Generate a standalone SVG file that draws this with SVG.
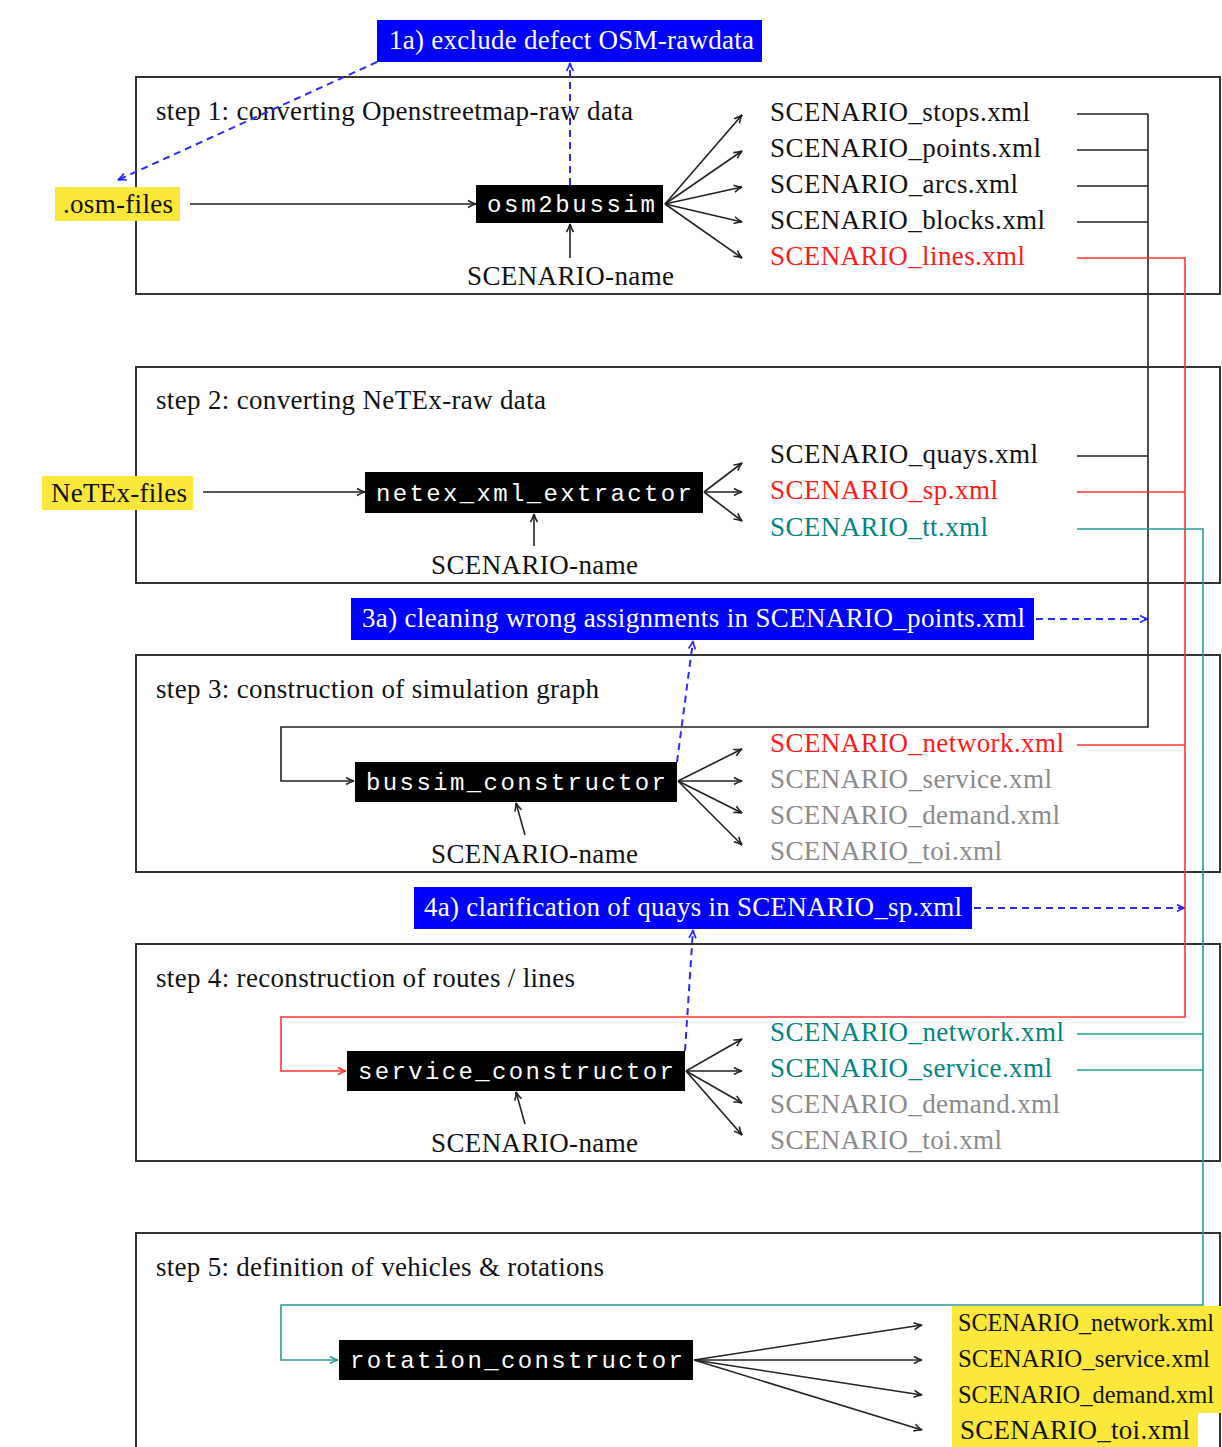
<svg xmlns="http://www.w3.org/2000/svg" width="1222" height="1447" viewBox="0 0 1222 1447">
<defs>
<style>
.frame{fill:none;stroke:#333;stroke-width:2}
.t{font-family:"Liberation Serif","Times New Roman",serif;font-size:27px;fill:#111}
.s5{font-size:24.5px}
.w{font-family:"Liberation Serif","Times New Roman",serif;font-size:27px;fill:#fff}
.m{font-family:"Liberation Mono","Courier New",monospace;font-size:24px;fill:#fff}
.red{fill:#ff1a1a}.teal{fill:#00857f}.gray{fill:#8a8a8a}
.blk{fill:none;stroke:#222;stroke-width:1.6}
.rl{fill:none;stroke:#ff3333;stroke-width:1.6}
.tl{fill:none;stroke:#2a9c96;stroke-width:1.6}
.bl{fill:none;stroke:#2a2aff;stroke-width:2;stroke-dasharray:7 5}
.ybox{fill:#fce83a}
.bbox{fill:#0000ff}
.kbox{fill:#000}
</style>
<marker id="ak" viewBox="0 0 10 10" refX="9" refY="5" markerWidth="10" markerHeight="10" markerUnits="userSpaceOnUse" orient="auto"><path d="M1,1.5 Q5,4 9,5 Q5,6 1,8.5" fill="none" stroke="#222" stroke-width="1.6"/></marker>
<marker id="ar" viewBox="0 0 10 10" refX="9" refY="5" markerWidth="10" markerHeight="10" markerUnits="userSpaceOnUse" orient="auto"><path d="M1,1.5 Q5,4 9,5 Q5,6 1,8.5" fill="none" stroke="#ff3333" stroke-width="1.6"/></marker>
<marker id="at" viewBox="0 0 10 10" refX="9" refY="5" markerWidth="10" markerHeight="10" markerUnits="userSpaceOnUse" orient="auto"><path d="M1,1.5 Q5,4 9,5 Q5,6 1,8.5" fill="none" stroke="#2a9c96" stroke-width="1.6"/></marker>
<marker id="ab" viewBox="0 0 10 10" refX="9" refY="5" markerWidth="10" markerHeight="10" markerUnits="userSpaceOnUse" orient="auto"><path d="M1,1.5 Q5,4 9,5 Q5,6 1,8.5" fill="none" stroke="#2a2aff" stroke-width="1.8"/></marker>
</defs>
<rect width="1222" height="1447" fill="#fff"/>

<g id="frames">
<g id="step1"><rect class="frame" x="136" y="77" width="1084" height="217"/><text class="t" x="156" y="120" textLength="477">step 1: converting Openstreetmap-raw data</text></g>
<g id="step2"><rect class="frame" x="136" y="367" width="1084" height="216"/><text class="t" x="156" y="409" textLength="390">step 2: converting NeTEx-raw data</text></g>
<g id="step3"><rect class="frame" x="136" y="655" width="1084" height="217"/><text class="t" x="156" y="698" textLength="443">step 3: construction of simulation graph</text></g>
<g id="step4"><rect class="frame" x="136" y="944" width="1084" height="217"/><text class="t" x="156" y="987" textLength="419">step 4: reconstruction of routes / lines</text></g>
<g id="step5"><path class="frame" d="M136,1447 V1233 H1220 V1447"/><text class="t" x="156" y="1276" textLength="448">step 5: definition of vehicles &amp; rotations</text></g>
</g>

<g id="connectors">
<line class="blk" x1="190" y1="204" x2="476" y2="204" marker-end="url(#ak)"/>
<line class="blk" x1="570" y1="258" x2="570" y2="224" marker-end="url(#ak)"/>
<line class="blk" x1="665" y1="204" x2="742" y2="115" marker-end="url(#ak)"/>
<line class="blk" x1="665" y1="204" x2="742" y2="151" marker-end="url(#ak)"/>
<line class="blk" x1="665" y1="204" x2="742" y2="187" marker-end="url(#ak)"/>
<line class="blk" x1="665" y1="204" x2="742" y2="222" marker-end="url(#ak)"/>
<line class="blk" x1="665" y1="204" x2="742" y2="258" marker-end="url(#ak)"/>
<line class="bl" x1="570" y1="185" x2="570" y2="63" marker-end="url(#ab)"/>
<line class="bl" x1="377" y1="62" x2="118" y2="180" marker-end="url(#ab)"/>
<line class="blk" x1="203" y1="492" x2="365" y2="492" marker-end="url(#ak)"/>
<line class="blk" x1="534" y1="546" x2="534" y2="514" marker-end="url(#ak)"/>
<line class="blk" x1="704" y1="492" x2="742" y2="463" marker-end="url(#ak)"/>
<line class="blk" x1="704" y1="492" x2="742" y2="492" marker-end="url(#ak)"/>
<line class="blk" x1="704" y1="492" x2="742" y2="521" marker-end="url(#ak)"/>
<line class="bl" x1="677" y1="762" x2="693" y2="641" marker-end="url(#ab)"/>
<line class="bl" x1="1036" y1="619" x2="1148" y2="619" marker-end="url(#ab)"/>
<line class="blk" x1="525" y1="835" x2="516" y2="803" marker-end="url(#ak)"/>
<line class="blk" x1="678" y1="781" x2="742" y2="749" marker-end="url(#ak)"/>
<line class="blk" x1="678" y1="781" x2="742" y2="781" marker-end="url(#ak)"/>
<line class="blk" x1="678" y1="781" x2="742" y2="813" marker-end="url(#ak)"/>
<line class="blk" x1="678" y1="781" x2="742" y2="845" marker-end="url(#ak)"/>
<line class="bl" x1="685" y1="1051" x2="693" y2="930" marker-end="url(#ab)"/>
<line class="bl" x1="974" y1="908" x2="1185" y2="908" marker-end="url(#ab)"/>
<line class="blk" x1="525" y1="1124" x2="516" y2="1092" marker-end="url(#ak)"/>
<line class="blk" x1="686" y1="1071" x2="742" y2="1039" marker-end="url(#ak)"/>
<line class="blk" x1="686" y1="1071" x2="742" y2="1071" marker-end="url(#ak)"/>
<line class="blk" x1="686" y1="1071" x2="742" y2="1103" marker-end="url(#ak)"/>
<line class="blk" x1="686" y1="1071" x2="742" y2="1135" marker-end="url(#ak)"/>
<line class="blk" x1="694" y1="1360" x2="922" y2="1325" marker-end="url(#ak)"/>
<line class="blk" x1="694" y1="1360" x2="922" y2="1360" marker-end="url(#ak)"/>
<line class="blk" x1="694" y1="1360" x2="922" y2="1395" marker-end="url(#ak)"/>
<line class="blk" x1="694" y1="1360" x2="922" y2="1430" marker-end="url(#ak)"/>
<path class="blk" d="M1077,114 H1148 M1077,150 H1148 M1077,186 H1148 M1077,222 H1148 M1077,456 H1148"/>
<path class="blk" d="M1148,114 V727 H281 V781 H354" marker-end="url(#ak)"/>
<path class="rl" d="M1077,492 H1185 M1077,745 H1185"/>
<path class="rl" d="M1077,258 H1185 V1017 H281 V1071 H346" marker-end="url(#ar)"/>
<path class="tl" d="M1077,1034 H1203 M1077,1070 H1203"/>
<path class="tl" d="M1077,529 H1203 V1305 H281 V1360 H338" marker-end="url(#at)"/>
</g>

<g id="n1a"><rect class="bbox" x="377" y="20" width="385" height="42"/><text class="w" x="389" y="49" textLength="365">1a) exclude defect OSM-rawdata</text></g>
<g id="nosm"><rect class="ybox" x="55" y="187" width="125" height="34"/><text class="t" x="63" y="213" textLength="110">.osm-files</text></g>
<g id="nosm2bussim"><rect class="kbox" x="476" y="185" width="187" height="38"/><text class="m" x="487" y="212" textLength="168">osm2bussim</text></g>
<g id="nname1"><text class="t" x="467" y="285" textLength="207">SCENARIO-name</text></g>
<g id="nout1">
<text class="t" x="770" y="121" textLength="260">SCENARIO_stops.xml</text>
<text class="t" x="770" y="157" textLength="271">SCENARIO_points.xml</text>
<text class="t" x="770" y="193" textLength="248">SCENARIO_arcs.xml</text>
<text class="t" x="770" y="229" textLength="275">SCENARIO_blocks.xml</text>
<text class="t red" x="770" y="265" textLength="255">SCENARIO_lines.xml</text>
</g>

<g id="nnetex"><rect class="ybox" x="42" y="476" width="151" height="34"/><text class="t" x="51" y="502" textLength="136">NeTEx-files</text></g>
<g id="nextractor"><rect class="kbox" x="365" y="472" width="338" height="41"/><text class="m" x="376" y="501" textLength="316">netex_xml_extractor</text></g>
<g id="nname2"><text class="t" x="431" y="574" textLength="207">SCENARIO-name</text></g>
<g id="nout2">
<text class="t" x="770" y="463" textLength="268">SCENARIO_quays.xml</text>
<text class="t red" x="770" y="499" textLength="228">SCENARIO_sp.xml</text>
<text class="t teal" x="770" y="536" textLength="218">SCENARIO_tt.xml</text>
</g>

<g id="n3a"><rect class="bbox" x="351" y="598" width="683" height="42"/><text class="w" x="362" y="627" textLength="663">3a) cleaning wrong assignments in SCENARIO_points.xml</text></g>
<g id="nbussim"><rect class="kbox" x="355" y="762" width="322" height="40"/><text class="m" x="366" y="790" textLength="300">bussim_constructor</text></g>
<g id="nname3"><text class="t" x="431" y="863" textLength="207">SCENARIO-name</text></g>
<g id="nout3">
<text class="t red" x="770" y="752" textLength="294">SCENARIO_network.xml</text>
<text class="t gray" x="770" y="788" textLength="282">SCENARIO_service.xml</text>
<text class="t gray" x="770" y="824" textLength="290">SCENARIO_demand.xml</text>
<text class="t gray" x="770" y="860" textLength="232">SCENARIO_toi.xml</text>
</g>

<g id="n4a"><rect class="bbox" x="414" y="887" width="558" height="42"/><text class="w" x="424" y="916" textLength="538">4a) clarification of quays in SCENARIO_sp.xml</text></g>
<g id="nservice"><rect class="kbox" x="347" y="1051" width="338" height="40"/><text class="m" x="358" y="1079" textLength="316">service_constructor</text></g>
<g id="nname4"><text class="t" x="431" y="1152" textLength="207">SCENARIO-name</text></g>
<g id="nout4">
<text class="t teal" x="770" y="1041" textLength="294">SCENARIO_network.xml</text>
<text class="t teal" x="770" y="1077" textLength="282">SCENARIO_service.xml</text>
<text class="t gray" x="770" y="1113" textLength="290">SCENARIO_demand.xml</text>
<text class="t gray" x="770" y="1149" textLength="232">SCENARIO_toi.xml</text>
</g>

<g id="nrotation"><rect class="kbox" x="339" y="1340" width="354" height="40"/><text class="m" x="350" y="1368" textLength="333">rotation_constructor</text></g>
<g id="nout5">
<rect class="ybox" x="952" y="1306" width="270" height="107"/>
<rect class="ybox" x="952" y="1413" width="246" height="34"/>
<text class="t s5" x="958" y="1331" textLength="256" lengthAdjust="spacingAndGlyphs">SCENARIO_network.xml</text>
<text class="t s5" x="958" y="1367" textLength="252" lengthAdjust="spacingAndGlyphs">SCENARIO_service.xml</text>
<text class="t s5" x="958" y="1403" textLength="256" lengthAdjust="spacingAndGlyphs">SCENARIO_demand.xml</text>
<text class="t" x="960" y="1439" textLength="230">SCENARIO_toi.xml</text>
</g>
</svg>
